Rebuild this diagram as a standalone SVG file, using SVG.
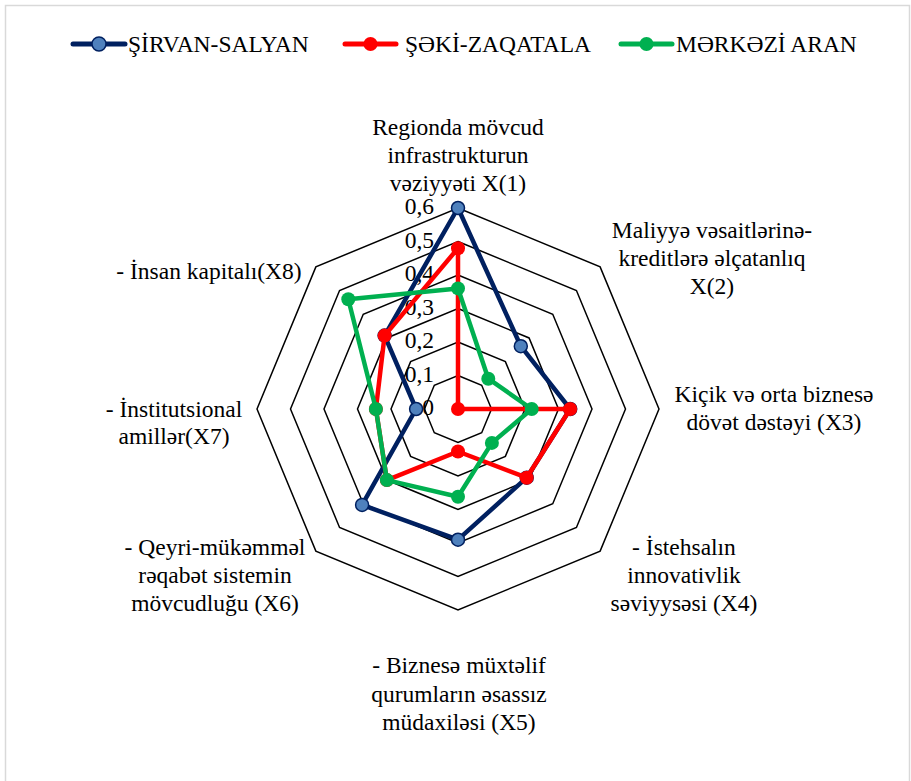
<svg xmlns="http://www.w3.org/2000/svg" width="911" height="781" viewBox="0 0 911 781">
<style>
text{font-family:"Liberation Serif","Times New Roman",serif;font-size:23.5px;fill:#000}
.lbl{text-anchor:middle}
.tick{text-anchor:end}
.ring{fill:none;stroke:#000;stroke-width:1.5}
.s1{fill:none;stroke:#002060;stroke-width:4.5;stroke-linejoin:round}
.s2{fill:none;stroke:#ff0000;stroke-width:4.5;stroke-linejoin:round}
.s3{fill:none;stroke:#00b050;stroke-width:4.5;stroke-linejoin:round}
.m1{fill:#4f81bd;stroke:#002060;stroke-width:1.5}
.m2{fill:#ff0000}
.m3{fill:#00b050}
.leg{stroke-width:5;stroke-linecap:round}
</style>
<rect x="5.5" y="5.5" width="904" height="780" fill="#fff" stroke="#d9d9d9" stroke-width="1.5"/>

<g id="grid">
<polygon class="ring" points="458,375.5 481.69,385.31 491.5,409 481.69,432.69 458,442.5 434.31,432.69 424.5,409 434.31,385.31"/>
<polygon class="ring" points="458,342 505.38,361.62 525,409 505.38,456.38 458,476 410.62,456.38 391,409 410.62,361.62"/>
<polygon class="ring" points="458,308.5 529.06,337.94 558.5,409 529.06,480.06 458,509.5 386.94,480.06 357.5,409 386.94,337.94"/>
<polygon class="ring" points="458,275 552.75,314.25 592,409 552.75,503.75 458,543 363.25,503.75 324,409 363.25,314.25"/>
<polygon class="ring" points="458,241.5 576.44,290.56 625.5,409 576.44,527.44 458,576.5 339.56,527.44 290.5,409 339.56,290.56"/>
<polygon class="ring" points="458,208 600.13,266.87 659,409 600.13,551.13 458,610 315.87,551.13 257,409 315.87,266.87"/>
</g>

<g id="ticks">
<text class="tick" x="434" y="415">0</text>
<text class="tick" x="434" y="381.5">0,1</text>
<text class="tick" x="434" y="348">0,2</text>
<text class="tick" x="434" y="314.5">0,3</text>
<text class="tick" x="434" y="281">0,4</text>
<text class="tick" x="434" y="247.5">0,5</text>
<text class="tick" x="434" y="214">0,6</text>
</g>

<g id="axis-labels">
<g id="X1"><text class="lbl" x="458" y="135">Regionda mövcud</text><text class="lbl" x="458" y="163">infrastrukturun</text><text class="lbl" x="458" y="191">vəziyyəti X(1)</text></g>
<g id="X2"><text class="lbl" x="712" y="238">Maliyyə vəsaitlərinə-</text><text class="lbl" x="712" y="266">kreditlərə əlçatanlıq</text><text class="lbl" x="712" y="294">X(2)</text></g>
<g id="X3"><text class="lbl" x="774" y="402">Kiçik və orta biznesə</text><text class="lbl" x="774" y="430">dövət dəstəyi (X3)</text></g>
<g id="X4"><text class="lbl" x="684" y="555">- İstehsalın</text><text class="lbl" x="684" y="583">innovativlik</text><text class="lbl" x="684" y="611">səviyysəsi (X4)</text></g>
<g id="X5"><text class="lbl" x="459" y="673">- Biznesə müxtəlif</text><text class="lbl" x="459" y="701.5">qurumların əsassız</text><text class="lbl" x="459" y="730">müdaxiləsi (X5)</text></g>
<g id="X6"><text class="lbl" x="215" y="555">- Qeyri-mükəmməl</text><text class="lbl" x="215" y="583">rəqabət sistemin</text><text class="lbl" x="215" y="611">mövcudluğu (X6)</text></g>
<g id="X7"><text class="lbl" x="174" y="417">- İnstitutsional</text><text class="lbl" x="174" y="444">amillər(X7)</text></g>
<g id="X8"><text class="lbl" x="209" y="279">- İnsan kapitalı(X8)</text></g>
</g>

<g id="series">
<g id="sirvan-salyan">
<polygon class="s1" points="458,208 520.8,346.2 570.2,409 526.7,477.7 458,539.7 362.1,504.9 416.1,409 384.6,335.6"/>
<circle class="m1" cx="458" cy="208" r="6.5"/><circle class="m1" cx="520.8" cy="346.2" r="6.5"/><circle class="m1" cx="570.2" cy="409" r="6.5"/><circle class="m1" cx="526.7" cy="477.7" r="6.5"/><circle class="m1" cx="458" cy="539.7" r="6.5"/><circle class="m1" cx="362.1" cy="504.9" r="6.5"/><circle class="m1" cx="416.1" cy="409" r="6.5"/><circle class="m1" cx="384.6" cy="335.6" r="6.5"/>
</g>
<g id="seki-zaqatala">
<polygon class="s2" points="458,248.2 458,409 570.2,409 526.7,477.7 458,451.5 386.9,480.1 375.9,409 384.6,335.6"/>
<circle class="m2" cx="458" cy="248.2" r="7"/><circle class="m2" cx="458" cy="409" r="7"/><circle class="m2" cx="570.2" cy="409" r="7"/><circle class="m2" cx="526.7" cy="477.7" r="7"/><circle class="m2" cx="458" cy="451.5" r="7"/><circle class="m2" cx="386.9" cy="480.1" r="7"/><circle class="m2" cx="375.9" cy="409" r="7"/><circle class="m2" cx="384.6" cy="335.6" r="7"/>
</g>
<g id="merkezi-aran">
<polygon class="s3" points="458,288.4 488.3,378.7 531.7,409 491.9,442.9 458,496.8 386.9,480.1 375.9,409 348.3,299.3"/>
<circle class="m3" cx="458" cy="288.4" r="7"/><circle class="m3" cx="488.3" cy="378.7" r="7"/><circle class="m3" cx="531.7" cy="409" r="7"/><circle class="m3" cx="491.9" cy="442.9" r="7"/><circle class="m3" cx="458" cy="496.8" r="7"/><circle class="m3" cx="386.9" cy="480.1" r="7"/><circle class="m3" cx="375.9" cy="409" r="7"/><circle class="m3" cx="348.3" cy="299.3" r="7"/>
</g>
</g>

<g id="legend">
<g id="leg-sirvan"><line class="leg" x1="73" y1="44" x2="125" y2="44" stroke="#002060"/><circle class="m1" cx="99" cy="44" r="7"/><text x="128" y="52">ŞİRVAN-SALYAN</text></g>
<g id="leg-seki"><line class="leg" x1="345" y1="44" x2="396" y2="44" stroke="#ff0000"/><circle class="m2" cx="370.5" cy="44" r="7"/><text x="405" y="52">ŞƏKİ-ZAQATALA</text></g>
<g id="leg-merkezi"><line class="leg" x1="621" y1="44" x2="672" y2="44" stroke="#00b050"/><circle class="m3" cx="646.5" cy="44" r="7"/><text x="676" y="52">MƏRKƏZİ ARAN</text></g>
</g>
</svg>
